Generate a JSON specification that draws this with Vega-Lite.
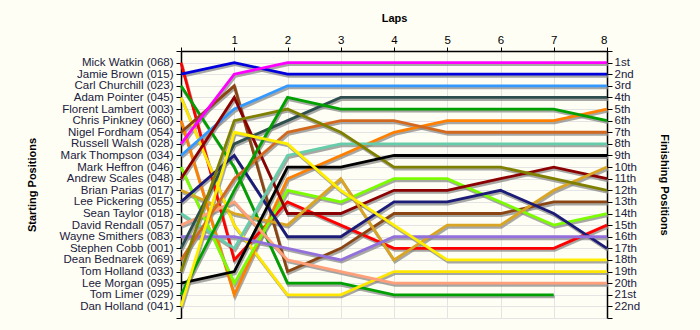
{
 "$schema": "https://vega.github.io/schema/vega-lite/v6.json",
 "width": 426, "height": 267,
 "autosize": "none",
 "padding": {"left": 181, "top": 51, "right": 93, "bottom": 12},
 "background": "#FEFEF4",
 "config": {"view": {"stroke": null}, "font": "Liberation Sans",
   "axis": {"labelFont": "Liberation Sans", "labelFontSize": 11.5, "labelColor": "#202040", "titleFont": "Liberation Sans", "titleFontSize": 11, "titleFontWeight": "bold", "titleColor": "#000000", "domainColor": "#000000", "domainWidth": 1.5, "tickColor": "#000000", "tickWidth": 1, "gridColor": "#E4E4E4", "gridWidth": 1}},
 "datasets": {"race": [
  {"d":"Mick Watkin (068)","lap":0,"pos":1},{"d":"Mick Watkin (068)","lap":1,"pos":18},{"d":"Mick Watkin (068)","lap":2,"pos":13},{"d":"Mick Watkin (068)","lap":3,"pos":15},{"d":"Mick Watkin (068)","lap":4,"pos":17},{"d":"Mick Watkin (068)","lap":5,"pos":17},{"d":"Mick Watkin (068)","lap":6,"pos":17},{"d":"Mick Watkin (068)","lap":7,"pos":17},{"d":"Mick Watkin (068)","lap":8,"pos":15},
  {"d":"Jamie Brown (015)","lap":0,"pos":2},{"d":"Jamie Brown (015)","lap":1,"pos":1},{"d":"Jamie Brown (015)","lap":2,"pos":2},{"d":"Jamie Brown (015)","lap":3,"pos":2},{"d":"Jamie Brown (015)","lap":4,"pos":2},{"d":"Jamie Brown (015)","lap":5,"pos":2},{"d":"Jamie Brown (015)","lap":6,"pos":2},{"d":"Jamie Brown (015)","lap":7,"pos":2},{"d":"Jamie Brown (015)","lap":8,"pos":2},
  {"d":"Carl Churchill (023)","lap":0,"pos":3},{"d":"Carl Churchill (023)","lap":1,"pos":10},{"d":"Carl Churchill (023)","lap":2,"pos":20},{"d":"Carl Churchill (023)","lap":3,"pos":20},{"d":"Carl Churchill (023)","lap":4,"pos":21},{"d":"Carl Churchill (023)","lap":5,"pos":21},{"d":"Carl Churchill (023)","lap":6,"pos":21},{"d":"Carl Churchill (023)","lap":7,"pos":21},
  {"d":"Adam Pointer (045)","lap":0,"pos":4},{"d":"Adam Pointer (045)","lap":1,"pos":15},{"d":"Adam Pointer (045)","lap":2,"pos":21},{"d":"Adam Pointer (045)","lap":3,"pos":21},{"d":"Adam Pointer (045)","lap":4,"pos":19},{"d":"Adam Pointer (045)","lap":5,"pos":19},{"d":"Adam Pointer (045)","lap":6,"pos":19},{"d":"Adam Pointer (045)","lap":7,"pos":19},{"d":"Adam Pointer (045)","lap":8,"pos":19},
  {"d":"Chris Pinkney (060)","lap":0,"pos":6},{"d":"Chris Pinkney (060)","lap":1,"pos":21},{"d":"Chris Pinkney (060)","lap":2,"pos":11},{"d":"Chris Pinkney (060)","lap":3,"pos":9},{"d":"Chris Pinkney (060)","lap":4,"pos":7},{"d":"Chris Pinkney (060)","lap":5,"pos":6},{"d":"Chris Pinkney (060)","lap":6,"pos":6},{"d":"Chris Pinkney (060)","lap":7,"pos":6},{"d":"Chris Pinkney (060)","lap":8,"pos":5},
  {"d":"Nigel Fordham (054)","lap":0,"pos":7},{"d":"Nigel Fordham (054)","lap":1,"pos":3},{"d":"Nigel Fordham (054)","lap":2,"pos":19},{"d":"Nigel Fordham (054)","lap":3,"pos":17},{"d":"Nigel Fordham (054)","lap":4,"pos":14},{"d":"Nigel Fordham (054)","lap":5,"pos":14},{"d":"Nigel Fordham (054)","lap":6,"pos":14},{"d":"Nigel Fordham (054)","lap":7,"pos":13},{"d":"Nigel Fordham (054)","lap":8,"pos":13},
  {"d":"Russell Walsh (028)","lap":0,"pos":8},{"d":"Russell Walsh (028)","lap":1,"pos":2},{"d":"Russell Walsh (028)","lap":2,"pos":1},{"d":"Russell Walsh (028)","lap":3,"pos":1},{"d":"Russell Walsh (028)","lap":4,"pos":1},{"d":"Russell Walsh (028)","lap":5,"pos":1},{"d":"Russell Walsh (028)","lap":6,"pos":1},{"d":"Russell Walsh (028)","lap":7,"pos":1},{"d":"Russell Walsh (028)","lap":8,"pos":1},
  {"d":"Mark Thompson (034)","lap":0,"pos":9},{"d":"Mark Thompson (034)","lap":1,"pos":5},{"d":"Mark Thompson (034)","lap":2,"pos":3},{"d":"Mark Thompson (034)","lap":3,"pos":3},{"d":"Mark Thompson (034)","lap":4,"pos":3},{"d":"Mark Thompson (034)","lap":5,"pos":3},{"d":"Mark Thompson (034)","lap":6,"pos":3},{"d":"Mark Thompson (034)","lap":7,"pos":3},{"d":"Mark Thompson (034)","lap":8,"pos":3},
  {"d":"Mark Heffron (046)","lap":0,"pos":10},{"d":"Mark Heffron (046)","lap":1,"pos":20},{"d":"Mark Heffron (046)","lap":2,"pos":12},{"d":"Mark Heffron (046)","lap":3,"pos":13},{"d":"Mark Heffron (046)","lap":4,"pos":11},{"d":"Mark Heffron (046)","lap":5,"pos":11},{"d":"Mark Heffron (046)","lap":6,"pos":13},{"d":"Mark Heffron (046)","lap":7,"pos":15},{"d":"Mark Heffron (046)","lap":8,"pos":14},
  {"d":"Andrew Scales (048)","lap":0,"pos":11},{"d":"Andrew Scales (048)","lap":1,"pos":4},{"d":"Andrew Scales (048)","lap":2,"pos":14},{"d":"Andrew Scales (048)","lap":3,"pos":14},{"d":"Andrew Scales (048)","lap":4,"pos":12},{"d":"Andrew Scales (048)","lap":5,"pos":12},{"d":"Andrew Scales (048)","lap":6,"pos":11},{"d":"Andrew Scales (048)","lap":7,"pos":10},{"d":"Andrew Scales (048)","lap":8,"pos":11},
  {"d":"Brian Parias (017)","lap":0,"pos":12},{"d":"Brian Parias (017)","lap":1,"pos":14},{"d":"Brian Parias (017)","lap":2,"pos":15},{"d":"Brian Parias (017)","lap":3,"pos":11},{"d":"Brian Parias (017)","lap":4,"pos":18},{"d":"Brian Parias (017)","lap":5,"pos":15},{"d":"Brian Parias (017)","lap":6,"pos":15},{"d":"Brian Parias (017)","lap":7,"pos":12},{"d":"Brian Parias (017)","lap":8,"pos":10},
  {"d":"Lee Pickering (055)","lap":0,"pos":13},{"d":"Lee Pickering (055)","lap":1,"pos":9},{"d":"Lee Pickering (055)","lap":2,"pos":16},{"d":"Lee Pickering (055)","lap":3,"pos":16},{"d":"Lee Pickering (055)","lap":4,"pos":13},{"d":"Lee Pickering (055)","lap":5,"pos":13},{"d":"Lee Pickering (055)","lap":6,"pos":12},{"d":"Lee Pickering (055)","lap":7,"pos":14},{"d":"Lee Pickering (055)","lap":8,"pos":17},
  {"d":"Sean Taylor (018)","lap":0,"pos":14},{"d":"Sean Taylor (018)","lap":1,"pos":17},{"d":"Sean Taylor (018)","lap":2,"pos":9},{"d":"Sean Taylor (018)","lap":3,"pos":8},{"d":"Sean Taylor (018)","lap":4,"pos":8},{"d":"Sean Taylor (018)","lap":5,"pos":8},{"d":"Sean Taylor (018)","lap":6,"pos":8},{"d":"Sean Taylor (018)","lap":7,"pos":8},{"d":"Sean Taylor (018)","lap":8,"pos":8},
  {"d":"David Rendall (057)","lap":0,"pos":15},{"d":"David Rendall (057)","lap":1,"pos":13},{"d":"David Rendall (057)","lap":2,"pos":18},{"d":"David Rendall (057)","lap":3,"pos":19},{"d":"David Rendall (057)","lap":4,"pos":20},{"d":"David Rendall (057)","lap":5,"pos":20},{"d":"David Rendall (057)","lap":6,"pos":20},{"d":"David Rendall (057)","lap":7,"pos":20},{"d":"David Rendall (057)","lap":8,"pos":20},
  {"d":"Wayne Smithers (083)","lap":0,"pos":16},{"d":"Wayne Smithers (083)","lap":1,"pos":16},{"d":"Wayne Smithers (083)","lap":2,"pos":17},{"d":"Wayne Smithers (083)","lap":3,"pos":18},{"d":"Wayne Smithers (083)","lap":4,"pos":16},{"d":"Wayne Smithers (083)","lap":5,"pos":16},{"d":"Wayne Smithers (083)","lap":6,"pos":16},{"d":"Wayne Smithers (083)","lap":7,"pos":16},{"d":"Wayne Smithers (083)","lap":8,"pos":16},
  {"d":"Stephen Cobb (001)","lap":0,"pos":17},{"d":"Stephen Cobb (001)","lap":1,"pos":8},{"d":"Stephen Cobb (001)","lap":2,"pos":6},{"d":"Stephen Cobb (001)","lap":3,"pos":4},{"d":"Stephen Cobb (001)","lap":4,"pos":4},{"d":"Stephen Cobb (001)","lap":5,"pos":4},{"d":"Stephen Cobb (001)","lap":6,"pos":4},{"d":"Stephen Cobb (001)","lap":7,"pos":4},{"d":"Stephen Cobb (001)","lap":8,"pos":4},
  {"d":"Dean Bednarek (069)","lap":0,"pos":18},{"d":"Dean Bednarek (069)","lap":1,"pos":11},{"d":"Dean Bednarek (069)","lap":2,"pos":7},{"d":"Dean Bednarek (069)","lap":3,"pos":6},{"d":"Dean Bednarek (069)","lap":4,"pos":6},{"d":"Dean Bednarek (069)","lap":5,"pos":7},{"d":"Dean Bednarek (069)","lap":6,"pos":7},{"d":"Dean Bednarek (069)","lap":7,"pos":7},{"d":"Dean Bednarek (069)","lap":8,"pos":7},
  {"d":"Tom Holland (033)","lap":0,"pos":19},{"d":"Tom Holland (033)","lap":1,"pos":6},{"d":"Tom Holland (033)","lap":2,"pos":5},{"d":"Tom Holland (033)","lap":3,"pos":7},{"d":"Tom Holland (033)","lap":4,"pos":10},{"d":"Tom Holland (033)","lap":5,"pos":10},{"d":"Tom Holland (033)","lap":6,"pos":10},{"d":"Tom Holland (033)","lap":7,"pos":11},{"d":"Tom Holland (033)","lap":8,"pos":12},
  {"d":"Lee Morgan (095)","lap":0,"pos":20},{"d":"Lee Morgan (095)","lap":1,"pos":19},{"d":"Lee Morgan (095)","lap":2,"pos":10},{"d":"Lee Morgan (095)","lap":3,"pos":10},{"d":"Lee Morgan (095)","lap":4,"pos":9},{"d":"Lee Morgan (095)","lap":5,"pos":9},{"d":"Lee Morgan (095)","lap":6,"pos":9},{"d":"Lee Morgan (095)","lap":7,"pos":9},{"d":"Lee Morgan (095)","lap":8,"pos":9},
  {"d":"Tom Limer (029)","lap":0,"pos":21},{"d":"Tom Limer (029)","lap":1,"pos":12},{"d":"Tom Limer (029)","lap":2,"pos":4},{"d":"Tom Limer (029)","lap":3,"pos":5},{"d":"Tom Limer (029)","lap":4,"pos":5},{"d":"Tom Limer (029)","lap":5,"pos":5},{"d":"Tom Limer (029)","lap":6,"pos":5},{"d":"Tom Limer (029)","lap":7,"pos":5},{"d":"Tom Limer (029)","lap":8,"pos":6},
  {"d":"Dan Holland (041)","lap":0,"pos":22},{"d":"Dan Holland (041)","lap":1,"pos":7},{"d":"Dan Holland (041)","lap":2,"pos":8},{"d":"Dan Holland (041)","lap":3,"pos":12},{"d":"Dan Holland (041)","lap":4,"pos":15},{"d":"Dan Holland (041)","lap":5,"pos":18},{"d":"Dan Holland (041)","lap":6,"pos":18},{"d":"Dan Holland (041)","lap":7,"pos":18},{"d":"Dan Holland (041)","lap":8,"pos":18}
 ]},
 "data": {"name": "race"},
 "layer": [
  {
   "mark": {"type": "line", "stroke": "#8A8A8A", "opacity": 0.75, "strokeWidth": 3, "xOffset": 1, "yOffset": 2},
   "encoding": {
    "x": {"field": "lap", "type": "quantitative", "scale": {"domain": [0, 8], "nice": false, "zero": false},
      "axis": {"orient": "top", "values": [0,1,2,3,4,5,6,7,8], "labelExpr": "datum.value == 0 ? '' : datum.label", "title": "Laps", "titlePadding": 11, "tickSize": 4, "labelPadding": 2, "grid": true, "labelColor": "#000000"}},
    "y": {"field": "pos", "type": "quantitative", "scale": {"domain": [0, 23], "reverse": true, "nice": false, "zero": false},
      "axis": {"orient": "left", "values": [0,1,2,3,4,5,6,7,8,9,10,11,12,13,14,15,16,17,18,19,20,21,22,23], "title": "Starting Positions", "titlePadding": 22, "tickSize": 5, "labelPadding": 3, "grid": true,
        "labelExpr": "['', 'Mick Watkin (068)', 'Jamie Brown (015)', 'Carl Churchill (023)', 'Adam Pointer (045)', 'Florent Lambert (003)', 'Chris Pinkney (060)', 'Nigel Fordham (054)', 'Russell Walsh (028)', 'Mark Thompson (034)', 'Mark Heffron (046)', 'Andrew Scales (048)', 'Brian Parias (017)', 'Lee Pickering (055)', 'Sean Taylor (018)', 'David Rendall (057)', 'Wayne Smithers (083)', 'Stephen Cobb (001)', 'Dean Bednarek (069)', 'Tom Holland (033)', 'Lee Morgan (095)', 'Tom Limer (029)', 'Dan Holland (041)', ''][datum.value]"}},
    "detail": {"field": "d"},
    "order": {"field": "lap"}
   }
  },
  {
   "mark": {"type": "line", "strokeWidth": 2.8},
   "encoding": {
    "x": {"field": "lap", "type": "quantitative"},
    "y": {"field": "pos", "type": "quantitative", "scale": {"domain": [0, 23], "reverse": true, "nice": false, "zero": false},
      "axis": {"orient": "right", "values": [0,1,2,3,4,5,6,7,8,9,10,11,12,13,14,15,16,17,18,19,20,21,22,23], "title": "Finishing Positions", "titlePadding": 19, "tickSize": 5, "labelPadding": 2, "grid": false,
        "labelExpr": "datum.value < 1 || datum.value > 22 ? '' : datum.value + ((datum.value % 10 == 1 && datum.value != 11) ? 'st' : (datum.value % 10 == 2 && datum.value != 12) ? 'nd' : (datum.value % 10 == 3 && datum.value != 13) ? 'rd' : 'th')"}},
    "color": {"field": "d", "type": "nominal", "legend": null,
      "scale": {"domain": ["Mick Watkin (068)","Jamie Brown (015)","Carl Churchill (023)","Adam Pointer (045)","Chris Pinkney (060)","Nigel Fordham (054)","Russell Walsh (028)","Mark Thompson (034)","Mark Heffron (046)","Andrew Scales (048)","Brian Parias (017)","Lee Pickering (055)","Sean Taylor (018)","David Rendall (057)","Wayne Smithers (083)","Stephen Cobb (001)","Dean Bednarek (069)","Tom Holland (033)","Lee Morgan (095)","Tom Limer (029)","Dan Holland (041)"],
        "range": ["#FF0000","#0000DD","#00A000","#FFE600","#FF8000","#8B4513","#FF00FF","#3399FF","#7CFC00","#8B0000","#DAA520","#1C1C78","#66CDAA","#FFA07A","#9370DB","#2F4F4F","#D2691E","#808000","#000000","#00A000","#FFEE00"]}},
    "order": {"field": "lap"}
   }
  }
 ],
 "resolve": {"scale": {"y": "independent"}}
}
